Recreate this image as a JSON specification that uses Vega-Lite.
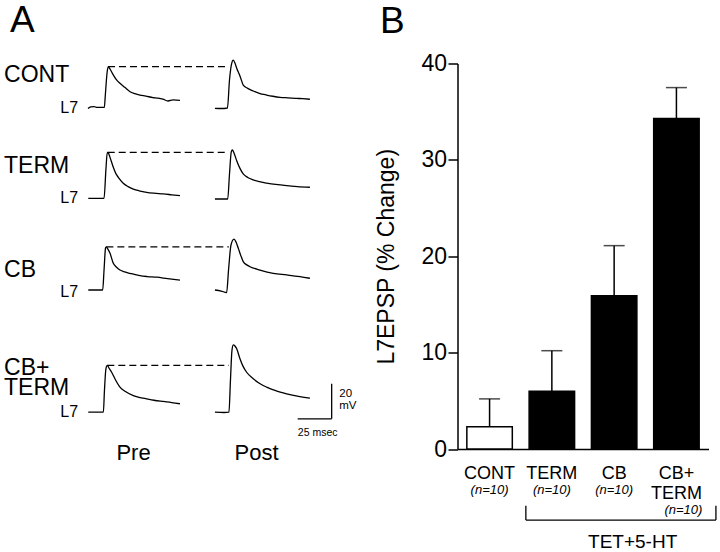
{
  "$schema": "https://vega.github.io/schema/vega-lite/v6.json",
  "background": "white",
  "padding": {"left": 4, "top": 1.5, "right": 0, "bottom": 0},
  "config": {"font": "Liberation Sans", "view": {"stroke": null}},
  "datasets": {
    "bars": [
      {"cond": "CONT", "grp": "control", "mean": 2.3, "hi": 5.2, "n": "(n=10)"},
      {"cond": "TERM", "grp": "TET+5-HT", "mean": 6.0, "hi": 10.2, "n": "(n=10)"},
      {"cond": "CB", "grp": "TET+5-HT", "mean": 15.9, "hi": 21.1, "n": "(n=10)"},
      {"cond": "CB+TERM", "grp": "TET+5-HT", "mean": 34.3, "hi": 37.5, "n": "(n=10)"}
    ],
    "traces": [
      {"cond":"CONT","phase":"Pre","t":-12.5,"v":-0.3},{"cond":"CONT","phase":"Pre","t":-10.5,"v":0.6},{"cond":"CONT","phase":"Pre","t":-8,"v":0.8},{"cond":"CONT","phase":"Pre","t":-5.9,"v":0.3},{"cond":"CONT","phase":"Pre","t":-2.5,"v":0.4},{"cond":"CONT","phase":"Pre","t":-0.5,"v":0.3},{"cond":"CONT","phase":"Pre","t":0.3,"v":8},{"cond":"CONT","phase":"Pre","t":1.5,"v":20},{"cond":"CONT","phase":"Pre","t":2.4,"v":23.6},{"cond":"CONT","phase":"Pre","t":3.5,"v":22.5},{"cond":"CONT","phase":"Pre","t":6.1,"v":18.9},{"cond":"CONT","phase":"Pre","t":8.5,"v":16},{"cond":"CONT","phase":"Pre","t":11,"v":14.1},{"cond":"CONT","phase":"Pre","t":14.5,"v":11.8},{"cond":"CONT","phase":"Pre","t":18.4,"v":9.3},{"cond":"CONT","phase":"Pre","t":22,"v":8.2},{"cond":"CONT","phase":"Pre","t":25.7,"v":7.4},{"cond":"CONT","phase":"Pre","t":30,"v":6.8},{"cond":"CONT","phase":"Pre","t":35.3,"v":5.9},{"cond":"CONT","phase":"Pre","t":39,"v":5.6},{"cond":"CONT","phase":"Pre","t":42.6,"v":5.0},{"cond":"CONT","phase":"Pre","t":46.3,"v":4.0},{"cond":"CONT","phase":"Pre","t":50,"v":4.6},{"cond":"CONT","phase":"Pre","t":55.1,"v":4.4},
      {"cond":"CONT","phase":"Post","t":-9.6,"v":-0.2},{"cond":"CONT","phase":"Post","t":-5,"v":-0.3},{"cond":"CONT","phase":"Post","t":-0.4,"v":0},{"cond":"CONT","phase":"Post","t":1.1,"v":16},{"cond":"CONT","phase":"Post","t":2.6,"v":25.1},{"cond":"CONT","phase":"Post","t":3.9,"v":27.3},{"cond":"CONT","phase":"Post","t":5.1,"v":25.7},{"cond":"CONT","phase":"Post","t":6.4,"v":22.7},{"cond":"CONT","phase":"Post","t":8.8,"v":18.3},{"cond":"CONT","phase":"Post","t":11.2,"v":13.1},{"cond":"CONT","phase":"Post","t":14.5,"v":11.2},{"cond":"CONT","phase":"Post","t":18.6,"v":9.7},{"cond":"CONT","phase":"Post","t":23,"v":8.4},{"cond":"CONT","phase":"Post","t":28.4,"v":7.4},{"cond":"CONT","phase":"Post","t":33,"v":6.7},{"cond":"CONT","phase":"Post","t":38.2,"v":6.1},{"cond":"CONT","phase":"Post","t":44,"v":5.8},{"cond":"CONT","phase":"Post","t":50.5,"v":5.5},{"cond":"CONT","phase":"Post","t":55,"v":5.3},{"cond":"CONT","phase":"Post","t":60.2,"v":5.0},
      {"cond":"TERM","phase":"Pre","t":-12.3,"v":0.4},{"cond":"TERM","phase":"Pre","t":-6,"v":0.4},{"cond":"TERM","phase":"Pre","t":-0.7,"v":0.4},{"cond":"TERM","phase":"Pre","t":0.7,"v":17.1},{"cond":"TERM","phase":"Pre","t":1.7,"v":26.7},{"cond":"TERM","phase":"Pre","t":2.5,"v":26.2},{"cond":"TERM","phase":"Pre","t":3.7,"v":23.8},{"cond":"TERM","phase":"Pre","t":6.1,"v":18.1},{"cond":"TERM","phase":"Pre","t":8,"v":14.5},{"cond":"TERM","phase":"Pre","t":9.8,"v":12.4},{"cond":"TERM","phase":"Pre","t":13.4,"v":9},{"cond":"TERM","phase":"Pre","t":17,"v":7.1},{"cond":"TERM","phase":"Pre","t":20.8,"v":5.7},{"cond":"TERM","phase":"Pre","t":25,"v":4.7},{"cond":"TERM","phase":"Pre","t":30.6,"v":3.8},{"cond":"TERM","phase":"Pre","t":36,"v":3.3},{"cond":"TERM","phase":"Pre","t":42.8,"v":2.9},{"cond":"TERM","phase":"Pre","t":49,"v":2.4},{"cond":"TERM","phase":"Pre","t":55.1,"v":1.9},
      {"cond":"TERM","phase":"Post","t":-9.6,"v":0},{"cond":"TERM","phase":"Post","t":-0.2,"v":0},{"cond":"TERM","phase":"Post","t":1.1,"v":14.3},{"cond":"TERM","phase":"Post","t":2.4,"v":26.9},{"cond":"TERM","phase":"Post","t":3.2,"v":28},{"cond":"TERM","phase":"Post","t":4.4,"v":26.3},{"cond":"TERM","phase":"Post","t":6.4,"v":21.9},{"cond":"TERM","phase":"Post","t":8.8,"v":17.5},{"cond":"TERM","phase":"Post","t":11.2,"v":14.3},{"cond":"TERM","phase":"Post","t":14.5,"v":12.3},{"cond":"TERM","phase":"Post","t":18.6,"v":10.9},{"cond":"TERM","phase":"Post","t":23,"v":9.9},{"cond":"TERM","phase":"Post","t":28.4,"v":9.1},{"cond":"TERM","phase":"Post","t":35,"v":8.3},{"cond":"TERM","phase":"Post","t":43.1,"v":7.6},{"cond":"TERM","phase":"Post","t":51,"v":7.1},{"cond":"TERM","phase":"Post","t":60.2,"v":6.7},
      {"cond":"CB","phase":"Pre","t":-12.3,"v":0},{"cond":"CB","phase":"Pre","t":-1.7,"v":0},{"cond":"CB","phase":"Pre","t":-0.7,"v":11.4},{"cond":"CB","phase":"Pre","t":0.4,"v":24},{"cond":"CB","phase":"Pre","t":0.9,"v":24.7},{"cond":"CB","phase":"Pre","t":2,"v":23.5},{"cond":"CB","phase":"Pre","t":3.7,"v":21},{"cond":"CB","phase":"Pre","t":6.1,"v":15.3},{"cond":"CB","phase":"Pre","t":8.5,"v":13},{"cond":"CB","phase":"Pre","t":11,"v":11.4},{"cond":"CB","phase":"Pre","t":14.5,"v":10.3},{"cond":"CB","phase":"Pre","t":18.4,"v":9.5},{"cond":"CB","phase":"Pre","t":25.7,"v":8.2},{"cond":"CB","phase":"Pre","t":31,"v":7.7},{"cond":"CB","phase":"Pre","t":38,"v":7.3},{"cond":"CB","phase":"Pre","t":46,"v":6.5},{"cond":"CB","phase":"Pre","t":55.1,"v":5.7},
      {"cond":"CB","phase":"Post","t":-9.6,"v":0},{"cond":"CB","phase":"Post","t":-5,"v":-0.6},{"cond":"CB","phase":"Post","t":-1,"v":-1.5},{"cond":"CB","phase":"Post","t":0.4,"v":11.4},{"cond":"CB","phase":"Post","t":2.2,"v":25.7},{"cond":"CB","phase":"Post","t":4.4,"v":29.1},{"cond":"CB","phase":"Post","t":5.9,"v":27.4},{"cond":"CB","phase":"Post","t":7.6,"v":23.8},{"cond":"CB","phase":"Post","t":9.5,"v":19.5},{"cond":"CB","phase":"Post","t":11.2,"v":16.2},{"cond":"CB","phase":"Post","t":13.5,"v":14.5},{"cond":"CB","phase":"Post","t":16.2,"v":13.3},{"cond":"CB","phase":"Post","t":23.5,"v":11.4},{"cond":"CB","phase":"Post","t":33.3,"v":9.5},{"cond":"CB","phase":"Post","t":43.1,"v":8.6},{"cond":"CB","phase":"Post","t":52.9,"v":7.6},{"cond":"CB","phase":"Post","t":60.2,"v":6.7},
      {"cond":"CB+TERM","phase":"Pre","t":-12.3,"v":0.2},{"cond":"CB+TERM","phase":"Pre","t":-1.2,"v":0.2},{"cond":"CB+TERM","phase":"Pre","t":-0.4,"v":12.6},{"cond":"CB+TERM","phase":"Pre","t":0.7,"v":25.1},{"cond":"CB+TERM","phase":"Pre","t":1.7,"v":26.9},{"cond":"CB+TERM","phase":"Pre","t":3,"v":25.3},{"cond":"CB+TERM","phase":"Pre","t":4.9,"v":23},{"cond":"CB+TERM","phase":"Pre","t":7.3,"v":19.3},{"cond":"CB+TERM","phase":"Pre","t":11,"v":14.5},{"cond":"CB+TERM","phase":"Pre","t":15,"v":12},{"cond":"CB+TERM","phase":"Pre","t":20.8,"v":9.7},{"cond":"CB+TERM","phase":"Pre","t":25,"v":8.7},{"cond":"CB+TERM","phase":"Pre","t":30.6,"v":7.8},{"cond":"CB+TERM","phase":"Pre","t":36,"v":7},{"cond":"CB+TERM","phase":"Pre","t":42.8,"v":6.3},{"cond":"CB+TERM","phase":"Pre","t":49,"v":5.7},{"cond":"CB+TERM","phase":"Pre","t":55.1,"v":5.0},
      {"cond":"CB+TERM","phase":"Post","t":-9.6,"v":0.2},{"cond":"CB+TERM","phase":"Post","t":-3,"v":0},{"cond":"CB+TERM","phase":"Post","t":0.7,"v":0.2},{"cond":"CB+TERM","phase":"Post","t":1.8,"v":18.3},{"cond":"CB+TERM","phase":"Post","t":2.9,"v":35.4},{"cond":"CB+TERM","phase":"Post","t":3.9,"v":38.7},{"cond":"CB+TERM","phase":"Post","t":5.1,"v":38},{"cond":"CB+TERM","phase":"Post","t":6.4,"v":36.4},{"cond":"CB+TERM","phase":"Post","t":8.8,"v":30.7},{"cond":"CB+TERM","phase":"Post","t":11,"v":26.5},{"cond":"CB+TERM","phase":"Post","t":13.7,"v":23},{"cond":"CB+TERM","phase":"Post","t":18.6,"v":19.3},{"cond":"CB+TERM","phase":"Post","t":23,"v":16.7},{"cond":"CB+TERM","phase":"Post","t":28.4,"v":14.5},{"cond":"CB+TERM","phase":"Post","t":35,"v":12.5},{"cond":"CB+TERM","phase":"Post","t":43.1,"v":10.7},{"cond":"CB+TERM","phase":"Post","t":51,"v":9.3},{"cond":"CB+TERM","phase":"Post","t":60.2,"v":8.2}
    ]
  },
  "spacing": 18.5,
  "resolve": {"scale": {"x": "independent", "y": "independent"}},
  "hconcat": [
    {
      "title": {"text": "A", "fontSize": 37, "fontWeight": "normal", "anchor": "start", "baseline": "alphabetic", "offset": -11.5, "dx": 6, "color": "black"},
      "spacing": 0,
      "resolve": {"scale": {"x": "independent", "y": "independent"}},
      "vconcat": [
        {
          "data": {"name": "traces"},
          "transform": [{"filter": "datum.cond === 'CONT'"}],
          "facet": {"column": {"field": "phase", "type": "nominal", "sort": ["Pre", "Post"], "header": null}},
          "spacing": 0,
          "bounds": "flush",
          "spec": {
            "width": 123, "height": 62,
            "layer": [
              {"mark": {"type": "line", "interpolate": "monotone", "color": "black", "strokeWidth": 1.3},
               "encoding": {"x": {"field": "t", "type": "quantitative", "scale": {"domain": [-31.6, 58.8], "nice": false, "zero": false}, "axis": null},
                            "y": {"field": "v", "type": "quantitative", "scale": {"domain": [-10, 25.4], "nice": false, "zero": false}, "axis": null}}},
              {"transform": [{"aggregate": [{"op": "max", "field": "v", "as": "vmax"}], "groupby": ["phase"]}, {"filter": "datum.phase === 'Pre'"}],
               "mark": {"type": "rule", "strokeDash": [7, 4], "color": "black", "strokeWidth": 1.3},
               "encoding": {"x": {"datum": 2.2}, "x2": {"datum": 89}, "y": {"field": "vmax", "type": "quantitative"}}},
              {"transform": [{"aggregate": [{"op": "count", "as": "k"}], "groupby": ["phase", "cond"]}, {"filter": "datum.phase === 'Pre'"}],
               "mark": {"type": "text", "align": "left", "baseline": "middle", "fontSize": 23, "color": "black"},
               "encoding": {"x": {"datum": -74.2}, "y": {"datum": 18.9}, "text": {"field": "cond"}}},
              {"transform": [{"aggregate": [{"op": "count", "as": "k"}], "groupby": ["phase"]}, {"filter": "datum.phase === 'Pre'"}],
               "mark": {"type": "text", "text": "L7", "align": "right", "baseline": "middle", "fontSize": 16, "color": "black"},
               "encoding": {"x": {"datum": -19.8}, "y": {"datum": 0}}}
            ]
          }
        },
        {
          "data": {"name": "traces"},
          "transform": [{"filter": "datum.cond === 'TERM'"}],
          "facet": {"column": {"field": "phase", "type": "nominal", "sort": ["Pre", "Post"], "header": null}},
          "spacing": 0,
          "bounds": "flush",
          "spec": {
            "width": 123, "height": 91,
            "layer": [
              {"mark": {"type": "line", "interpolate": "monotone", "color": "black", "strokeWidth": 1.3},
               "encoding": {"x": {"field": "t", "type": "quantitative", "scale": {"domain": [-31.6, 58.8], "nice": false, "zero": false}, "axis": null},
                            "y": {"field": "v", "type": "quantitative", "scale": {"domain": [-10, 42], "nice": false, "zero": false}, "axis": null}}},
              {"transform": [{"aggregate": [{"op": "max", "field": "v", "as": "vmax"}], "groupby": ["phase"]}, {"filter": "datum.phase === 'Pre'"}],
               "mark": {"type": "rule", "strokeDash": [7, 4], "color": "black", "strokeWidth": 1.3},
               "encoding": {"x": {"datum": 2.0}, "x2": {"datum": 89}, "y": {"field": "vmax", "type": "quantitative"}}},
              {"transform": [{"aggregate": [{"op": "count", "as": "k"}], "groupby": ["phase", "cond"]}, {"filter": "datum.phase === 'Pre'"}],
               "mark": {"type": "text", "align": "left", "baseline": "middle", "fontSize": 23, "color": "black"},
               "encoding": {"x": {"datum": -74.2}, "y": {"datum": 18.6}, "text": {"field": "cond"}}},
              {"transform": [{"aggregate": [{"op": "count", "as": "k"}], "groupby": ["phase"]}, {"filter": "datum.phase === 'Pre'"}],
               "mark": {"type": "text", "text": "L7", "align": "right", "baseline": "middle", "fontSize": 16, "color": "black"},
               "encoding": {"x": {"datum": -19.8}, "y": {"datum": 0.4}}}
            ]
          }
        },
        {
          "data": {"name": "traces"},
          "transform": [{"filter": "datum.cond === 'CB'"}],
          "facet": {"column": {"field": "phase", "type": "nominal", "sort": ["Pre", "Post"], "header": null}},
          "spacing": 0,
          "bounds": "flush",
          "spec": {
            "width": 123, "height": 91,
            "layer": [
              {"mark": {"type": "line", "interpolate": "monotone", "color": "black", "strokeWidth": 1.3},
               "encoding": {"x": {"field": "t", "type": "quantitative", "scale": {"domain": [-31.6, 58.8], "nice": false, "zero": false}, "axis": null},
                            "y": {"field": "v", "type": "quantitative", "scale": {"domain": [-10, 42], "nice": false, "zero": false}, "axis": null}}},
              {"transform": [{"aggregate": [{"op": "max", "field": "v", "as": "vmax"}], "groupby": ["phase"]}, {"filter": "datum.phase === 'Pre'"}],
               "mark": {"type": "rule", "strokeDash": [7, 4], "color": "black", "strokeWidth": 1.3},
               "encoding": {"x": {"datum": 1.0}, "x2": {"datum": 91}, "y": {"field": "vmax", "type": "quantitative"}}},
              {"transform": [{"aggregate": [{"op": "count", "as": "k"}], "groupby": ["phase", "cond"]}, {"filter": "datum.phase === 'Pre'"}],
               "mark": {"type": "text", "align": "left", "baseline": "middle", "fontSize": 23, "color": "black"},
               "encoding": {"x": {"datum": -74.2}, "y": {"datum": 11.4}, "text": {"field": "cond"}}},
              {"transform": [{"aggregate": [{"op": "count", "as": "k"}], "groupby": ["phase"]}, {"filter": "datum.phase === 'Pre'"}],
               "mark": {"type": "text", "text": "L7", "align": "right", "baseline": "middle", "fontSize": 16, "color": "black"},
               "encoding": {"x": {"datum": -19.8}, "y": {"datum": -1}}}
            ]
          }
        },
        {
          "data": {"name": "traces"},
          "transform": [{"filter": "datum.cond === 'CB+TERM'"}],
          "facet": {"column": {"field": "phase", "type": "nominal", "sort": ["Pre", "Post"], "header": null}},
          "spacing": 0,
          "bounds": "flush",
          "spec": {
            "width": 123, "height": 157.5,
            "layer": [
              {"mark": {"type": "line", "interpolate": "monotone", "color": "black", "strokeWidth": 1.3},
               "encoding": {"x": {"field": "t", "type": "quantitative", "scale": {"domain": [-31.6, 58.8], "nice": false, "zero": false}, "axis": null},
                            "y": {"field": "v", "type": "quantitative", "scale": {"domain": [-30, 60], "nice": false, "zero": false}, "axis": null}}},
              {"transform": [{"aggregate": [{"op": "max", "field": "v", "as": "vmax"}], "groupby": ["phase"]}, {"filter": "datum.phase === 'Pre'"}],
               "mark": {"type": "rule", "strokeDash": [7, 4], "color": "black", "strokeWidth": 1.3},
               "encoding": {"x": {"datum": 1.7}, "x2": {"datum": 91}, "y": {"field": "vmax", "type": "quantitative"}}},
              {"transform": [{"aggregate": [{"op": "count", "as": "k"}], "groupby": ["phase"]}, {"filter": "datum.phase === 'Pre'"}],
               "mark": {"type": "text", "text": ["CB+", "TERM"], "lineHeight": 20, "align": "left", "baseline": "middle", "fontSize": 23, "color": "black"},
               "encoding": {"x": {"datum": -74.2}, "y": {"datum": 25.7}}},
              {"transform": [{"aggregate": [{"op": "count", "as": "k"}], "groupby": ["phase"]}, {"filter": "datum.phase === 'Pre'"}],
               "mark": {"type": "text", "text": "L7", "align": "right", "baseline": "middle", "fontSize": 16, "color": "black"},
               "encoding": {"x": {"datum": -19.8}, "y": {"datum": 0.2}}},
              {"transform": [{"aggregate": [{"op": "count", "as": "k"}], "groupby": ["phase"]}],
               "mark": {"type": "text", "align": "center", "baseline": "middle", "fontSize": 22, "color": "black"},
               "encoding": {"x": {"datum": 21}, "y": {"datum": -23.3}, "text": {"field": "phase"}}},
              {"transform": [{"aggregate": [{"op": "count", "as": "k"}], "groupby": ["phase"]}, {"filter": "datum.phase === 'Post'"}],
               "mark": {"type": "rule", "color": "black", "strokeWidth": 1.3},
               "encoding": {"x": {"datum": 51.2}, "x2": {"datum": 76.2}, "y": {"datum": -3.6}}},
              {"transform": [{"aggregate": [{"op": "count", "as": "k"}], "groupby": ["phase"]}, {"filter": "datum.phase === 'Post'"}],
               "mark": {"type": "rule", "color": "black", "strokeWidth": 1.3},
               "encoding": {"x": {"datum": 76.2}, "y": {"datum": -3.6}, "y2": {"datum": 16.4}}},
              {"transform": [{"aggregate": [{"op": "count", "as": "k"}], "groupby": ["phase"]}, {"filter": "datum.phase === 'Post'"}],
               "mark": {"type": "text", "text": ["20", "mV"], "lineHeight": 12, "align": "left", "baseline": "middle", "fontSize": 11.5, "color": "black"},
               "encoding": {"x": {"datum": 81.8}, "y": {"datum": 10.6}}},
              {"transform": [{"aggregate": [{"op": "count", "as": "k"}], "groupby": ["phase"]}, {"filter": "datum.phase === 'Post'"}],
               "mark": {"type": "text", "text": "25 msec", "align": "center", "baseline": "middle", "fontSize": 10.5, "color": "black"},
               "encoding": {"x": {"datum": 65.9}, "y": {"datum": -11.9}}}
            ]
          }
        }
      ]
    },
    {
      "data": {"name": "bars"},
      "title": {"text": "B", "fontSize": 37, "fontWeight": "normal", "anchor": "start", "baseline": "alphabetic", "offset": -17, "dx": 4, "color": "black"},
      "width": 251,
      "height": 385.5,
      "encoding": {
        "x": {"field": "cond", "type": "nominal", "sort": ["CONT", "TERM", "CB", "CB+TERM"],
              "scale": {"paddingInner": 0.27, "paddingOuter": 0.15},
              "axis": {"title": null, "domainColor": "black", "domainWidth": 1.5, "ticks": false, "tickSize": 0,
                       "labelFontSize": 18, "labelColor": "black", "labelAngle": 0, "labelPadding": 15, "labelBaseline": "top",
                       "labelLineHeight": 20, "labelOverlap": false,
                       "labelExpr": "datum.value === 'CB+TERM' ? ['CB+', 'TERM'] : datum.value"}}
      },
      "layer": [
        {"mark": {"type": "bar", "stroke": "black", "strokeWidth": 1.5},
         "encoding": {
           "y": {"field": "mean", "type": "quantitative", "scale": {"domain": [0, 40], "nice": false, "zero": true},
                 "axis": {"title": "L7EPSP (% Change)", "titleFontSize": 23, "titleFontWeight": "normal", "titleColor": "black", "titlePadding": 22,
                          "labelFontSize": 23, "labelColor": "black", "labelPadding": 1.5, "tickSize": 9.5, "tickWidth": 1.5, "tickColor": "black",
                          "domainColor": "black", "domainWidth": 1.5, "grid": false, "values": [0, 10, 20, 30, 40]}},
           "fill": {"field": "grp", "type": "nominal", "scale": {"domain": ["control", "TET+5-HT"], "range": ["white", "black"]}, "legend": null}}},
        {"mark": {"type": "rule", "color": "black", "strokeWidth": 1.5},
         "encoding": {"y": {"field": "mean", "type": "quantitative"}, "y2": {"field": "hi"}}},
        {"mark": {"type": "tick", "color": "black", "size": 21, "thickness": 1.5},
         "encoding": {"y": {"field": "hi", "type": "quantitative"}}},
        {"transform": [{"filter": "datum.cond !== 'CB+TERM'"}],
         "mark": {"type": "text", "fontSize": 13, "fontStyle": "italic", "baseline": "middle", "color": "black"},
         "encoding": {"y": {"datum": -4.25}, "text": {"field": "n"}}},
        {"transform": [{"filter": "datum.cond === 'CB+TERM'"}],
         "mark": {"type": "text", "fontSize": 13, "fontStyle": "italic", "baseline": "middle", "dx": 7, "color": "black"},
         "encoding": {"y": {"datum": -6.38}, "text": {"field": "n"}}},
        {"transform": [{"filter": "datum.cond === 'CB'"}],
         "mark": {"type": "rule", "color": "black", "strokeWidth": 1.3, "xOffset": -26, "x2Offset": 39.5},
         "encoding": {"x": {"datum": "TERM", "type": "nominal"}, "x2": {"datum": "CB+TERM"}, "y": {"datum": -7.37}}},
        {"transform": [{"filter": "datum.cond === 'CB'"}],
         "mark": {"type": "rule", "color": "black", "strokeWidth": 1.3, "xOffset": -26},
         "encoding": {"x": {"datum": "TERM", "type": "nominal"}, "y": {"datum": -5.9}, "y2": {"datum": -7.37}}},
        {"transform": [{"filter": "datum.cond === 'CB'"}],
         "mark": {"type": "rule", "color": "black", "strokeWidth": 1.3, "xOffset": 39.5},
         "encoding": {"x": {"datum": "CB+TERM", "type": "nominal"}, "y": {"datum": -5.9}, "y2": {"datum": -7.37}}},
        {"transform": [{"filter": "datum.cond === 'CB'"}],
         "mark": {"type": "text", "text": "TET+5-HT", "fontSize": 19, "baseline": "middle", "dx": 18.5, "color": "black"},
         "encoding": {"x": {"datum": "CB", "type": "nominal"}, "y": {"datum": -9.7}}}
      ]
    }
  ]
}
